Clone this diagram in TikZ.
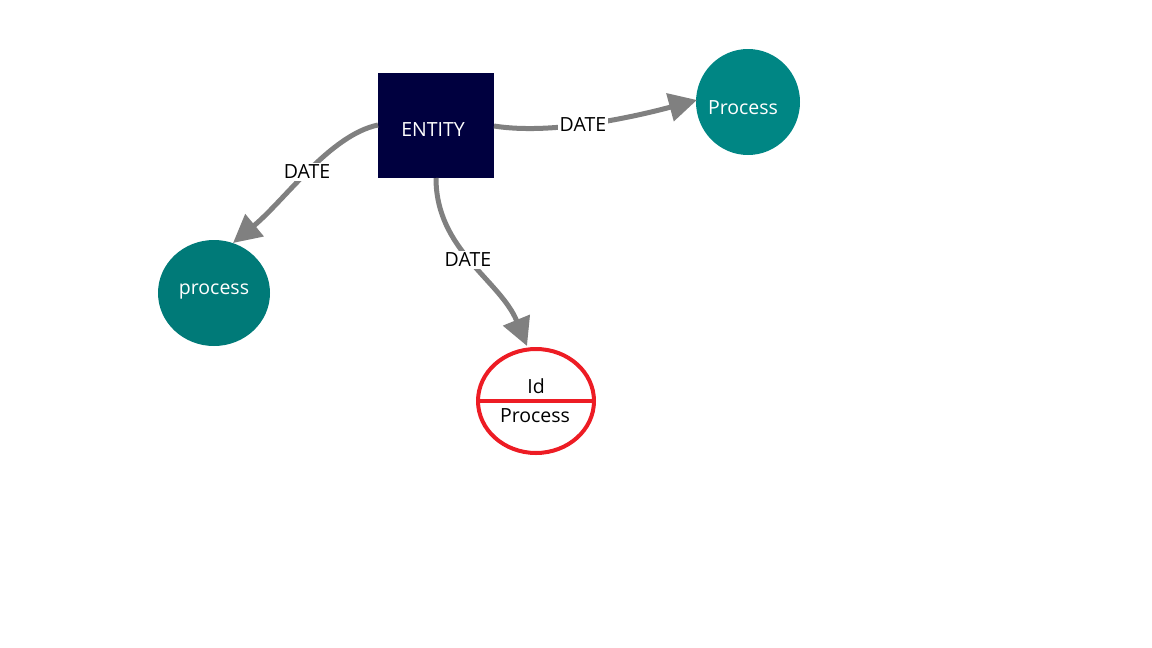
\documentclass[tikz,border=0pt]{standalone}
\usepackage{fontspec}
\setmainfont{Open Sans}
\usetikzlibrary{arrows.meta,shapes.geometric}
\definecolor{navy}{HTML}{00003F}
\definecolor{tealA}{HTML}{008684}
\definecolor{tealB}{HTML}{007A78}
\definecolor{edgegray}{HTML}{808080}
\definecolor{redline}{HTML}{ED1C24}
\tikzset{
  txt/.style={font=\fontsize{19.5}{23}\selectfont},
  entitybox/.style={fill=navy, minimum width=116pt, minimum height=105pt, inner sep=0pt},
  procnode/.style={ellipse, inner sep=0pt},
  wtxt/.style={txt, text=white},
  edge/.style={draw=edgegray, line width=5pt, -{Triangle[length=28pt,width=28pt]}},
  lbl/.style={fill=white, inner sep=2pt, txt, text=black}
}
\begin{document}
\begin{tikzpicture}[x=1pt,y=-1pt]
\useasboundingbox (0,0) rectangle (1152,648);
\node[entitybox] (ent) at (436,125.5) {};
\node[wtxt] (entt) at (433,130) {ENTITY};
\node[procnode, fill=tealA, minimum width=104pt, minimum height=106pt] (pr) at (748,102) {};
\node[wtxt] (prt) at (743,108) {Process};
\node[procnode, fill=tealB, minimum width=112pt, minimum height=106pt] (pl) at (214,293) {};
\node[wtxt] (plt) at (214,292) {process};
\node[procnode, draw=redline, line width=4pt, minimum width=116pt, minimum height=104pt] (pm) at (536,401) {};
\draw[redline, line width=4pt] (pm.west) -- (pm.east);
\node[txt] (pid) at (536,386) {Id};
\node[txt] (pmt) at (535,416) {Process};
\coordinate (e1s) at (378,125);
\coordinate (e1t) at (233,243);
\draw[edge] (e1s) .. controls (330,135) and (285,200) .. node[lbl, pos=0.5] (l1) {DATE} (e1t);
\coordinate (e2s) at (494,126);
\coordinate (e2t) at (697,100);
\draw[edge] (e2s) .. controls (550,135) and (630,118) .. node[lbl, pos=0.46] (l2) {DATE} (e2t);
\coordinate (e3s) at (436,178);
\coordinate (e3t) at (527,346);
\draw[edge] (e3s) .. controls (436,250) and (500,280) .. node[lbl, pos=0.47] (l3) {DATE} (e3t);
\end{tikzpicture}
\end{document}
